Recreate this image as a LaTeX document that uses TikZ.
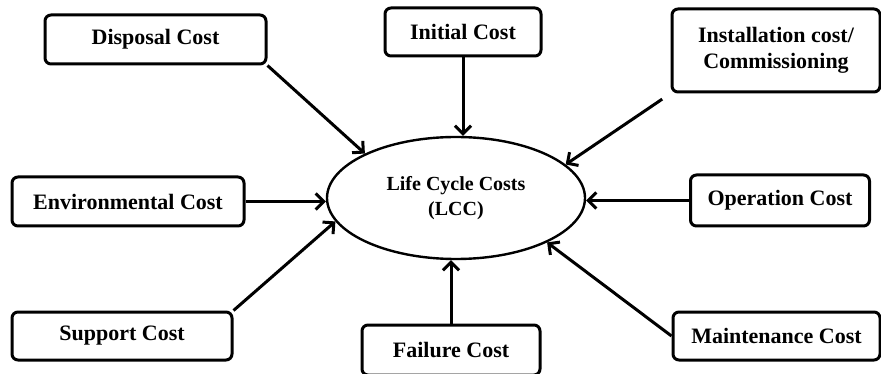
\documentclass[tikz,border=0pt]{standalone}
\usepackage{fontspec}
\setmainfont{Liberation Serif}
\usetikzlibrary{arrows.meta,shapes.geometric}
\tikzset{
	costbox/.style={draw, line width=3pt, rounded corners=6pt, align=center, inner sep=0pt,
		font=\fontsize{22}{26}\selectfont\bfseries},
	lccell/.style={draw, ellipse, line width=2.4pt, inner sep=0pt, minimum width=258pt, minimum height=122pt,
		align=center, font=\fontsize{20}{25}\selectfont\bfseries},
	feed/.style={line width=3pt, -{Straight Barb[length=8pt,width=16pt,line width=3pt]}}
}

\begin{document}
\begin{tikzpicture}[x=1pt, y=-1pt]
		%%%%% START %%%%%
		\useasboundingbox (0, 0) rectangle (881, 374);
		
		\node[lccell] (lcc) at (456, 198) {Life Cycle Costs\\(LCC)};
		
		\node[costbox, minimum width=221pt, minimum height=49pt] (dispo) at (155.5, 39.5) {Disposal Cost};
		\node[costbox, minimum width=156pt, minimum height=48pt] (init) at (463, 32) {Initial Cost};
		\node[costbox, minimum width=208pt, minimum height=83pt] (inst) at (776, 50.5) {Installation cost/\\Commissioning};
		\node[costbox, minimum width=232pt, minimum height=49pt] (envi) at (128, 201.5) {Environmental Cost};
		\node[costbox, minimum width=179pt, minimum height=51pt] (oper) at (780, 200.5) {Operation Cost};
		\node[costbox, minimum width=220pt, minimum height=48pt] (supp) at (122, 336) {Support Cost};
		\node[costbox, minimum width=178pt, minimum height=50pt] (fail) at (451, 350) {Failure Cost};
		\node[costbox, minimum width=207pt, minimum height=48pt] (mnt) at (776.5, 336) {Maintenance Cost};
		
		\draw[feed] (dispo.south east) -- (lcc.154);
		\draw[feed] (init.south) -- (init.south |- lcc.north);
		\draw[feed, shorten <=10pt] (inst.south west) -- (lcc.17);
		\draw[feed] (envi.east) -- (envi.east -| lcc.west);
		\draw[feed] (oper.west) -- (oper.west -| lcc.east);
		\draw[feed] (supp.north east) -- (lcc.191);
		\draw[feed] (fail.north) -- (fail.north |- lcc.south);
		\draw[feed] (mnt.west) -- (lcc.334);
		
		%%%%% END %%%%%
	\end{tikzpicture}
\end{document}
